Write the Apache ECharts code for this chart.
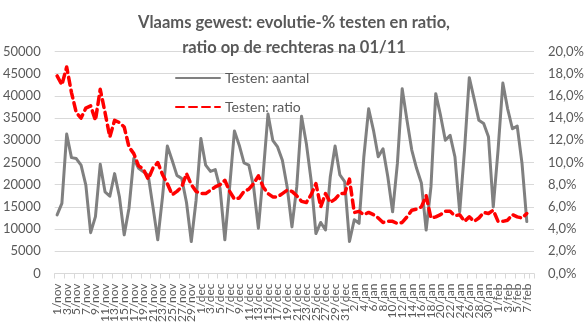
<!DOCTYPE html>
<html>
<head>
<meta charset="utf-8">
<script src="https://cdn.jsdelivr.net/npm/echarts@6/dist/echarts.min.js"></script>
<style>
html,body{margin:0;padding:0;background:#fff;}
#chart{width:588px;height:329px;}
</style>
</head>
<body>
<div id="chart"></div>
<script>
var categories = [
'1/nov','2/nov','3/nov','4/nov','5/nov','6/nov','7/nov','8/nov','9/nov','10/nov',
'11/nov','12/nov','13/nov','14/nov','15/nov','16/nov','17/nov','18/nov','19/nov','20/nov',
'21/nov','22/nov','23/nov','24/nov','25/nov','26/nov','27/nov','28/nov','29/nov','30/nov',
'1/dec','2/dec','3/dec','4/dec','5/dec','6/dec','7/dec','8/dec','9/dec','10/dec',
'11/dec','12/dec','13/dec','14/dec','15/dec','16/dec','17/dec','18/dec','19/dec','20/dec',
'21/dec','22/dec','23/dec','24/dec','25/dec','26/dec','27/dec','28/dec','29/dec','30/dec','31/dec',
'1/jan','2/jan','3/jan','4/jan','5/jan','6/jan','7/jan','8/jan','9/jan','10/jan',
'11/jan','12/jan','13/jan','14/jan','15/jan','16/jan','17/jan','18/jan','19/jan','20/jan',
'21/jan','22/jan','23/jan','24/jan','25/jan','26/jan','27/jan','28/jan','29/jan','30/jan','31/jan',
'1/feb','2/feb','3/feb','4/feb','5/feb','6/feb','7/feb','8/feb'
];

var testenAantal = [
13200,15800,31400,26100,25900,24400,19900,9200,12800,24600,
18400,17400,22500,17300,8700,14700,25900,23700,22900,22200,
15000,7600,17300,28700,25500,22100,21400,16000,7200,16500,
30400,24400,23000,23400,19200,7600,19500,32100,28900,24900,
24400,19500,10200,22500,35900,30000,28500,25500,19500,10500,
19500,35400,29300,21000,9000,11500,9800,21800,28700,22200,
20700,7200,12100,11300,26300,37100,32300,26300,28100,21800,
13900,24800,41600,34500,27800,23700,20400,9800,19500,40500,
35600,30000,31100,26300,13900,27800,44100,39400,34500,33800,
30800,15000,27800,42900,37100,32600,33200,24800,11700
];

var testenRatio = [
17.8,17.0,18.6,16.3,14.5,14.0,14.9,15.1,13.8,16.6,
14.5,12.3,13.8,13.6,13.2,11.4,10.8,9.7,9.4,8.5,
9.5,10.0,8.9,8.1,7.1,7.4,7.8,9.0,8.0,7.4,
7.2,7.2,7.5,7.8,8.0,8.4,7.4,6.7,6.8,7.4,
7.6,8.1,8.8,7.8,7.2,6.9,6.9,7.2,7.5,7.4,
7.0,6.5,6.4,7.1,8.1,6.0,7.2,6.4,6.7,7.2,
7.2,8.5,5.5,5.6,5.3,5.5,5.3,5.0,4.6,4.7,
4.7,4.5,4.6,5.1,5.7,5.8,6.0,7.0,5.0,5.1,
5.3,5.6,5.6,5.2,5.3,4.7,5.1,4.7,5.0,5.5,
5.4,5.7,4.7,4.7,4.8,5.3,5.1,5.0,5.4
];

var seriesNames = ['Testen: aantal', 'Testen: ratio'];
var titleText = 'Vlaams gewest: evolutie-% testen en ratio,\nratio op de rechteras na 01/11';

var FONT = 'Lato';
var TXT = '#595959';
var GRID = '#d9d9d9';

var chart = echarts.init(document.getElementById('chart'), null, {renderer: 'canvas'});
chart.setOption({
  animation: false,
  backgroundColor: '#ffffff',
  title: {
    text: titleText,
    left: 'center',
    top: 10,
    padding: 0,
    textStyle: {fontFamily: FONT, fontSize: 16.5, fontWeight: 'bold', color: TXT, lineHeight: 25}
  },
  legend: {
    orient: 'vertical',
    left: 175,
    top: 71,
    padding: 0,
    itemWidth: 44,
    itemHeight: 14,
    itemGap: 15,
    itemStyle: {opacity: 0},
    textStyle: {fontFamily: FONT, fontSize: 14, color: TXT},
    data: seriesNames
  },
  grid: {left: 54, right: 54, top: 51.5, bottom: 55.5, containLabel: false},
  xAxis: {
    type: 'category',
    data: categories,
    boundaryGap: true,
    axisLine: {lineStyle: {color: GRID, width: 1}},
    axisTick: {show: true, interval: 1, length: 5, lineStyle: {color: GRID}},
    axisLabel: {interval: 0, rotate: 90, margin: 10, hideOverlap: false,
      formatter: function (value, index) { return index % 2 === 0 ? value : ''; },
      fontFamily: FONT, fontSize: 12, color: TXT},
    splitLine: {show: false}
  },
  yAxis: [{
    type: 'value',
    min: 0, max: 50000, interval: 5000,
    axisLine: {show: false},
    axisTick: {show: false},
    axisLabel: {margin: 14, fontFamily: FONT, fontSize: 13, color: TXT,
      formatter: function (v) { return String(v); }},
    splitLine: {lineStyle: {color: GRID, width: 1}}
  }, {
    type: 'value',
    min: 0, max: 20, interval: 2,
    position: 'right',
    axisLine: {show: false},
    axisTick: {show: false},
    axisLabel: {margin: 14, fontFamily: FONT, fontSize: 13, color: TXT,
      formatter: function (v) { return v.toFixed(1).replace('.', ',') + '%'; }},
    splitLine: {show: false}
  }],
  series: [{
    name: seriesNames[0],
    type: 'line',
    yAxisIndex: 0,
    data: testenAantal,
    symbol: 'none',
    smooth: false,
    lineStyle: {color: '#808080', width: 3, cap: 'round', join: 'round'},
    itemStyle: {color: '#808080'}
  }, {
    name: seriesNames[1],
    type: 'line',
    yAxisIndex: 1,
    data: testenRatio,
    symbol: 'none',
    smooth: false,
    z: 3,
    lineStyle: {color: '#ff0000', width: 3.5, type: [8, 5], cap: 'round', join: 'round'},
    itemStyle: {color: '#ff0000'}
  }]
});
</script>
</body>
</html>
